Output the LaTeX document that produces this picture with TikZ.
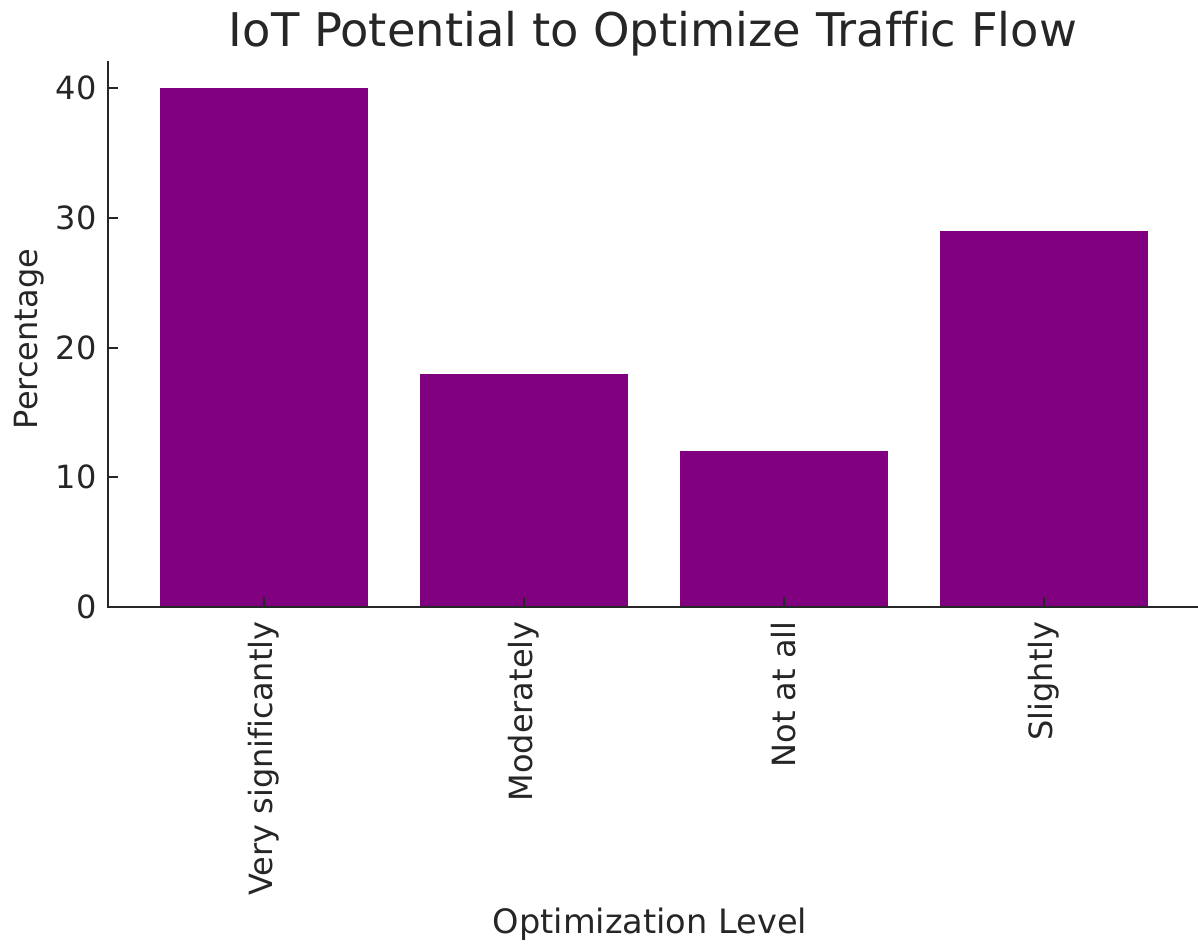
\documentclass[tikz,border=0pt]{standalone}
\usepackage{fontspec}
\setmainfont{DejaVu Sans}[Ligatures=NoCommon]
\definecolor{barpurple}{HTML}{800080}
\definecolor{axisgray}{HTML}{262626}
\begin{document}
\begin{tikzpicture}[x=0.5pt,y=-0.5pt,
  lbl/.style={inner sep=0pt,text=axisgray,font=\fontsize{16}{19}\selectfont},
  xlbl/.style={inner sep=0pt,text=axisgray,font=\fontsize{16.8}{20}\selectfont},
  ttl/.style={inner sep=0pt,text=axisgray,font=\fontsize{23.2}{27}\selectfont},
  bar/.style={fill=barpurple},
  spine/.style={draw=axisgray,line width=1.25pt},
  tickmark/.style={draw=axisgray,line width=1pt}]
\useasboundingbox (0,0) rectangle (1198,943);
% bars
\foreach \i/\v in {0/40,1/18,2/12,3/29}{
  \fill[bar] ({160+260*\i},607) rectangle ({368+260*\i},{607-12.97*\v});
}
% spines
\coordinate (top) at (108,62);
\coordinate (origin) at (108,607);
\coordinate (right) at (1198,607);
\draw[spine,line cap=rect] (top) -- (origin) -- (right);
% y ticks
\foreach \v in {0,10,20,30,40}{
  \coordinate (yt\v) at (108,{607-12.97*\v});
  \draw[tickmark] (yt\v) -- ++(10,0);
  \node[lbl,anchor=east] (yl\v) at (97,{607-12.97*\v}) {\v};
}
% x ticks
\foreach \i/\t in {0/Very significantly,1/Moderately,2/Not at all,3/Slightly}{
  \coordinate (xt\i) at ({264+260*\i},607);
  \draw[tickmark] (xt\i) -- ++(0,-10);
  \node[lbl,rotate=90,anchor=east] (xl\i) at ({264+260*\i},621) {\t};
}
\node[ttl,anchor=base] (title) at (653,46) {IoT Potential to Optimize Traffic Flow};
\node[lbl,rotate=90] (ylab) at (29,339) {Percentage};
\node[xlbl,anchor=base] (xlab) at (650,933) {Optimization Level};
\end{tikzpicture}
\end{document}
